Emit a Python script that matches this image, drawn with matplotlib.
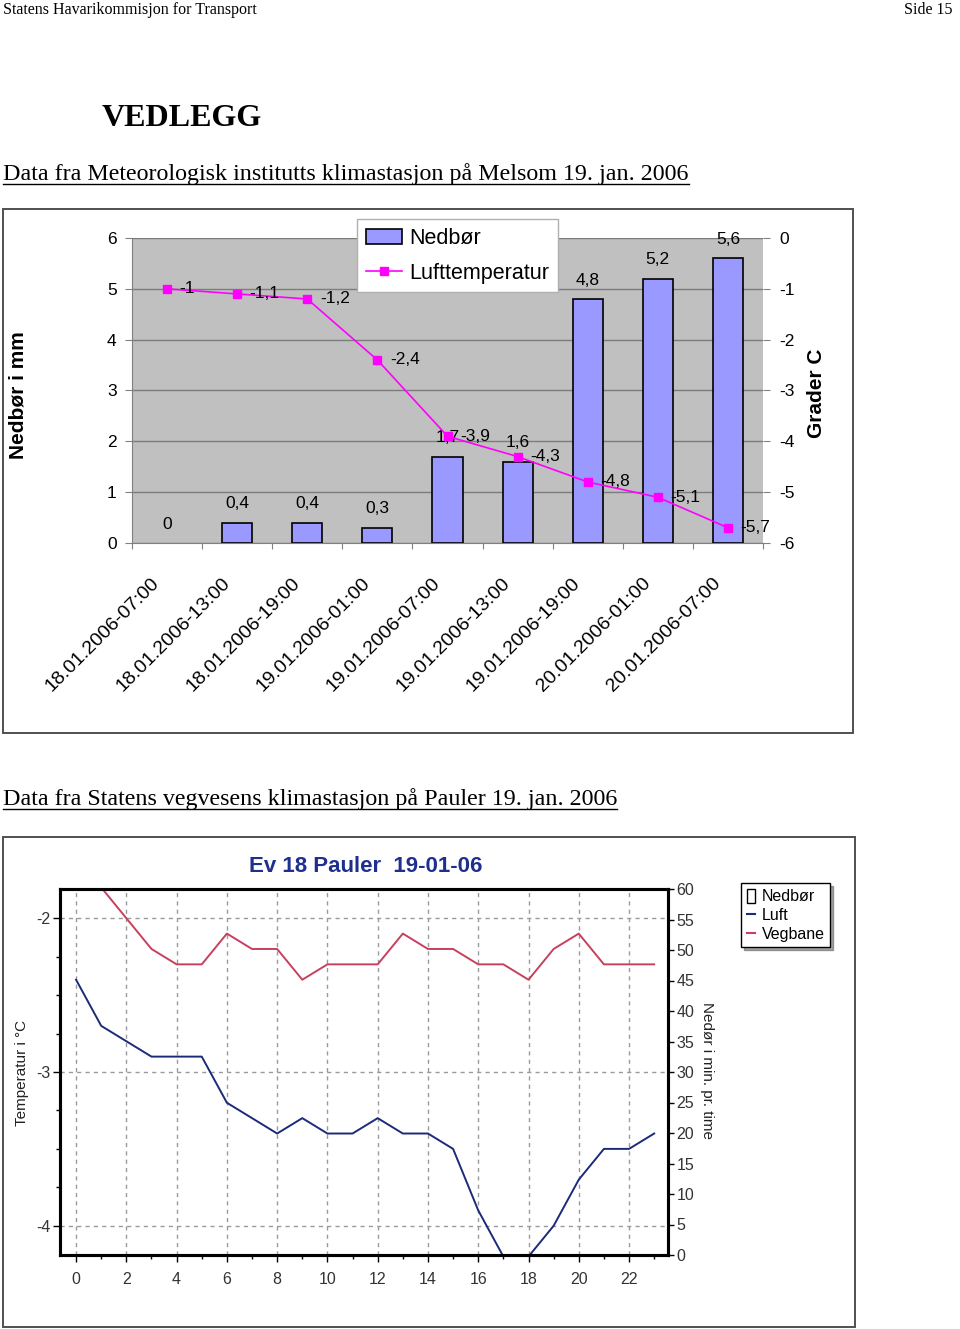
import matplotlib
matplotlib.use('Agg')
import matplotlib.pyplot as plt
from matplotlib.patches import Rectangle, Patch
from matplotlib.lines import Line2D
import matplotlib.transforms as mtransforms
import numpy as np

plt.rcParams['font.family'] = ['Liberation Sans', 'DejaVu Sans']
plt.rcParams['axes.unicode_minus'] = False

W, H, DPI = 960, 1329, 100
SERIF = ['Liberation Serif', 'DejaVu Serif']
SANS = ['Liberation Sans', 'DejaVu Sans']

# ---------------- data: chart 1 (Melsom) ----------------
categories = ["18.01.2006-07:00", "18.01.2006-13:00", "18.01.2006-19:00",
              "19.01.2006-01:00", "19.01.2006-07:00", "19.01.2006-13:00",
              "19.01.2006-19:00", "20.01.2006-01:00", "20.01.2006-07:00"]
nedbor_mm = [0, 0.4, 0.4, 0.3, 1.7, 1.6, 4.8, 5.2, 5.6]
lufttemp = [-1, -1.1, -1.2, -2.4, -3.9, -4.3, -4.8, -5.1, -5.7]
left_ticks = [0, 1, 2, 3, 4, 5, 6]
right_ticks = [-6, -5, -4, -3, -2, -1, 0]

# ---------------- data: chart 2 (Pauler) ----------------
hours = list(range(24))
luft_pauler = [-2.4, -2.7, -2.8, -2.9, -2.9, -2.9, -3.2, -3.3, -3.4, -3.3, -3.4, -3.4,
               -3.3, -3.4, -3.4, -3.5, -3.9, -4.2, -4.2, -4.0, -3.7, -3.5, -3.5, -3.4]
vegbane_pauler = [-1.6, -1.8, -2.0, -2.2, -2.3, -2.3, -2.1, -2.2, -2.2, -2.4, -2.3, -2.3,
                  -2.3, -2.1, -2.2, -2.2, -2.3, -2.3, -2.4, -2.2, -2.1, -2.3, -2.3, -2.3]
nedbor_pauler = [0] * 24
hour_ticks = list(range(0, 24, 2))
temp_ticks = [-4, -3, -2]
min_ticks = list(range(0, 61, 5))


def fx(x):
    return x / W


def fy(y):
    return 1 - y / H


def box(x0, y0, x1, y1):
    return [x0 / W, 1 - y1 / H, (x1 - x0) / W, (y1 - y0) / H]


def fmt(v):
    return f"{v:g}".replace('.', ',')


fig = plt.figure(figsize=(W / DPI, H / DPI), dpi=DPI)
fig.patch.set_facecolor('white')

# ---------------- page text ----------------
fig.text(fx(3), fy(14.5), "Statens Havarikommisjon for Transport", family=SERIF,
         fontsize=11.5, va='baseline', ha='left')
fig.text(fx(953), fy(14.5), "Side 15", family=SERIF, fontsize=11.5, va='baseline', ha='right')
fig.text(fx(102), fy(126), "VEDLEGG", family=SERIF, fontsize=23, weight='bold', va='baseline')
sub1 = fig.text(fx(3), fy(180), "Data fra Meteorologisk institutts klimastasjon på Melsom 19. jan. 2006",
                family=SERIF, fontsize=17.25, va='baseline')
sub2 = fig.text(fx(3), fy(805), "Data fra Statens vegvesens klimastasjon på Pauler 19. jan. 2006",
                family=SERIF, fontsize=17.25, va='baseline')

# frames
fig.patches.append(Rectangle((fx(3), fy(733)), (853 - 3) / W, (733 - 209) / H,
                             transform=fig.transFigure, fill=False, edgecolor='#505050', lw=1.4))
fig.patches.append(Rectangle((fx(3), fy(1327)), (855 - 3) / W, (1327 - 837) / H,
                             transform=fig.transFigure, fill=False, edgecolor='#505050', lw=1.4))

# ---------------- chart 1 ----------------
BAR_C = '#9999ff'
ax1 = fig.add_axes(box(132, 238, 763, 543))
ax1.set_facecolor('#c0c0c0')
x = np.arange(len(categories))
bars = ax1.bar(x, nedbor_mm, width=0.43, color=BAR_C, edgecolor='black',
               linewidth=1.2, zorder=3)
for p, v in zip(bars.patches, nedbor_mm):
    if v == 0:
        p.set_visible(False)
ax1.set_xlim(-0.5, len(categories) - 0.5)
ax1.set_ylim(0, 6)
ax1.set_yticks(left_ticks)
ax1.yaxis.grid(True, color='#7c7c7c', lw=1)
ax1.set_axisbelow(True)
for s in ['top', 'right']:
    ax1.spines[s].set_visible(False)
ax1.spines['left'].set_color('#808080')
ax1.spines['bottom'].set_color('#808080')
ax1.set_xticks(np.arange(-0.5, len(categories), 1.0))
ax1.set_xticklabels([])
ax1.tick_params(axis='x', length=4, color='#808080', direction='out')
ax1.tick_params(axis='y', length=5, color='#808080', labelsize=12.5, pad=6)

ax1r = ax1.twinx()
ax1r.set_ylim(-6, 0)
ax1r.set_yticks(right_ticks)
for s in ax1r.spines.values():
    s.set_visible(False)
ax1r.tick_params(axis='y', length=5, color='#808080', labelsize=12.5, pad=7)
line, = ax1r.plot(x, lufttemp, color='#ff00ff', marker='s', markersize=5.5, lw=1.2, zorder=4)

for xi, v in zip(x, nedbor_mm):
    ax1.annotate(fmt(v), (xi, v), xytext=(0, 13.5), textcoords='offset points',
                 ha='center', va='center', fontsize=12.5, zorder=6)
for xi, t in zip(x, lufttemp):
    ax1r.annotate(fmt(t), (xi, t), xytext=(9, 0), textcoords='offset points',
                  ha='left', va='center', fontsize=12.5, zorder=6)

off = mtransforms.ScaledTranslation(-10 / DPI, -38 / DPI, fig.dpi_scale_trans)
for xi, lab in zip(x, categories):
    ax1.text(xi, 0, lab, transform=ax1.get_xaxis_transform() + off, rotation=45,
             rotation_mode='anchor', ha='right', va='center', fontsize=14)

fig.text(fx(18), fy(395), "Nedbør i mm", rotation=90, fontsize=15, weight='bold',
         ha='center', va='center')
fig.text(fx(817), fy(393), "Grader C", rotation=90, fontsize=15, weight='bold',
         ha='center', va='center')

bar_handle = Patch(facecolor=BAR_C, edgecolor='black', lw=1.2)
fig.legend([bar_handle, line], ['Nedbør', 'Lufttemperatur'], loc='upper left',
           bbox_to_anchor=(fx(357), fy(219)), bbox_transform=fig.transFigure,
           frameon=True, fancybox=False, edgecolor='#b0b0b0', framealpha=1,
           prop={'size': 15.5}, borderpad=0.4, labelspacing=0.65,
           handlelength=1.7, handletextpad=0.35, borderaxespad=0)

# ---------------- chart 2 ----------------
BLUE = '#1c2a7a'
RED = '#c8405e'
ax2 = fig.add_axes(box(60, 889, 668, 1255))
ax2r = ax2.twinx()
ax2r.bar(hours, nedbor_pauler, width=0.8, facecolor='white', edgecolor='black', lw=0.8, zorder=1)
ax2r.set_ylim(0, 60)
ax2r.set_yticks(min_ticks)
ax2.plot(hours, luft_pauler, color=BLUE, lw=1.4, zorder=3)
ax2.plot(hours, vegbane_pauler, color=RED, lw=1.4, zorder=3)
ax2.set_xlim(-0.64, 23.55)
ax2.set_ylim(-4.19, -1.81)
ax2.set_xticks(hour_ticks)
ax2.set_xticks(range(1, 24, 2), minor=True)
ax2.set_yticks(temp_ticks)
ax2.set_yticks(np.arange(-4, -1.8, 0.25), minor=True)
ax2.grid(True, which='major', color='#9a9a9a', ls=(0, (3, 3)), lw=1)
for a in (ax2, ax2r):
    for s in a.spines.values():
        s.set_linewidth(2.2)
        s.set_color('black')
ax2.tick_params(which='both', direction='out', color='black')
ax2.tick_params(which='major', length=5, width=1, labelsize=11.5, labelcolor='#333333', pad=2)
ax2.tick_params(axis='x', which='major', pad=7)
ax2.tick_params(which='minor', length=3, width=1)
ax2r.tick_params(axis='y', length=4, width=1, labelsize=11.5, labelcolor='#333333', pad=2)

fig.text(fx(366), fy(866), "Ev 18 Pauler  19-01-06", weight='bold', fontsize=16,
         color='#1f2f8f', ha='center', va='center')
fig.text(fx(22), fy(1073), "Temperatur i °C", rotation=90, fontsize=11, color='#222222',
         ha='center', va='center')
fig.text(fx(707), fy(1071), "Nedør i min. pr. time", rotation=-90, fontsize=11,
         color='#222222', ha='center', va='center')

h2 = [Patch(facecolor='white', edgecolor='black', lw=1),
      Line2D([], [], color=BLUE, lw=1.5), Line2D([], [], color=RED, lw=1.5)]
fig.legend(h2, ['Nedbør', 'Luft', 'Vegbane'], loc='upper left',
           bbox_to_anchor=(fx(741), fy(883)), bbox_transform=fig.transFigure,
           frameon=True, fancybox=False, edgecolor='black', framealpha=1, shadow=True,
           prop={'size': 11.5}, borderpad=0.35, labelspacing=0.2,
           handlelength=0.55, handleheight=1.0, handletextpad=0.4, borderaxespad=0)

# underline the subtitles
fig.canvas.draw()
r = fig.canvas.get_renderer()
for t, yy in ((sub1, 184), (sub2, 809)):
    bb = t.get_window_extent(renderer=r)
    fig.lines.append(Line2D([bb.x0 / W, bb.x1 / W], [fy(yy), fy(yy)],
                            transform=fig.transFigure, color='black', lw=1))

fig.savefig('out.png', dpi=DPI)
